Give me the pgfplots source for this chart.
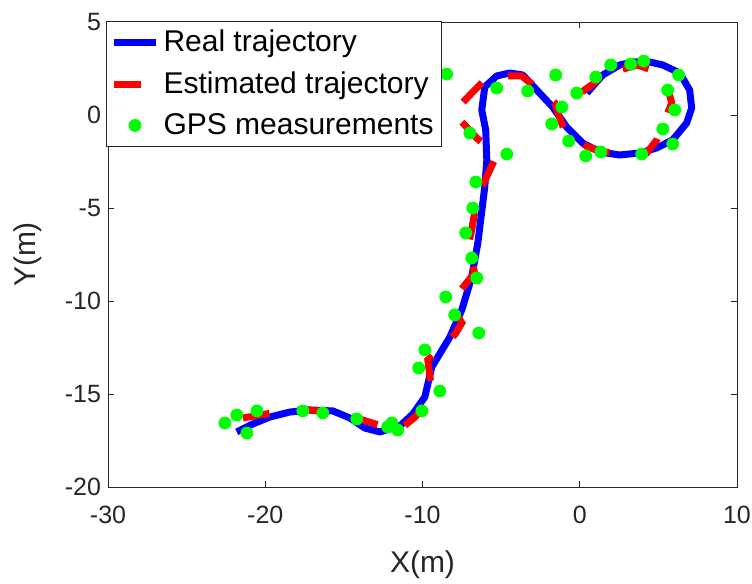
\documentclass[border=0pt]{standalone}
\usepackage{fontspec}
\setmainfont{Liberation Sans}
\usepackage{pgfplots}
\pgfplotsset{compat=1.18}
\definecolor{axgray}{gray}{0.15}
\definecolor{gpsgreen}{rgb}{0,1,0}
\pgfplotsset{
  mylinelegend/.style={legend image code/.code={\draw[##1] (0pt,0pt) -- (21pt,0pt);}},
  mymarklegend/.style={legend image code/.code={\draw[##1] plot coordinates {(10.5pt,0pt)};}},
}
\begin{document}
\begin{tikzpicture}
\useasboundingbox (-54pt,-48.5pt) rectangle (322pt,243.5pt);
\begin{axis}[
  scale only axis, width=314.5pt, height=232.5pt,
  xmin=-30, xmax=10, ymin=-20, ymax=5,
  xtick={-30,-20,-10,0,10}, ytick={-20,-15,-10,-5,0,5},
  tick align=inside, tick pos=both, major tick length=3pt,
  axis line style={axgray, line width=0.4pt}, tick style={axgray, line width=0.4pt},
  ticklabel style={font=\fontsize{12.5}{14}\selectfont, text=axgray},
  xticklabel style={yshift=-6pt},
  /pgf/number format/assume math mode=true,
  xlabel={X(m)}, ylabel={Y(m)},
  every axis x label/.style={at={(axis description cs:0.5,-0.168)}, anchor=center},
  every axis y label/.style={at={(axis description cs:-0.127,0.5)}, rotate=90, anchor=center},
  label style={font=\fontsize{15}{18}\selectfont, text=axgray},
  legend style={at={(axis description cs:-0.003,1.003)}, anchor=north west,
    font=\fontsize{15}{18}\selectfont, draw=axgray, line width=0.4pt,
    inner xsep=2pt, inner ysep=2.5pt, row sep=4.5pt},
  legend cell align=left,
]
\addplot[blue, line width=3.5pt, line join=round, mylinelegend] coordinates {
(-21.81,-17.04) (-20.79,-16.61) (-19.71,-16.24) (-18.44,-15.97) (-17.16,-15.86)
(-15.70,-15.91) (-14.62,-16.29) (-13.67,-16.83) (-12.71,-17.04) (-11.44,-16.72)
(-10.62,-16.08) (-9.85,-15.16) (-9.41,-13.55) (-8.26,-11.94) (-7.50,-10.48)
(-6.87,-8.71) (-6.48,-6.88) (-6.04,-3.87) (-5.91,-2.42) (-5.98,-0.81)
(-6.23,0.27) (-6.04,1.51) (-5.28,2.10) (-4.45,2.26) (-3.62,2.15)
(-2.73,1.34) (-1.72,0.43) (-0.83,-0.65) (0.19,-1.51) (1.27,-1.99)
(2.54,-2.15) (3.81,-2.04) (4.90,-1.77) (5.91,-1.34) (6.80,-0.43)
(7.12,0.38) (6.99,1.34) (6.36,2.26) (5.28,2.69) (4.45,2.85)
(3.37,2.85) (2.54,2.69) (1.46,2.15) (0.45,1.18)
};
\addlegendentry{Real trajectory}
\addplot[red, line width=3.5pt, dash pattern=on 13.5pt off 14pt, mylinelegend] coordinates {
(-21.42,-16.29) (-19.58,-16.02) (-18.31,-15.86) (-17.16,-15.86) (-15.77,-16.02)
(-14.75,-16.18) (-13.80,-16.40) (-12.40,-16.77) (-11.25,-16.77) (-10.55,-16.29)
(-9.85,-15.70) (-9.41,-14.78) (-9.54,-13.98) (-9.66,-13.17) (-8.39,-12.26)
(-7.88,-11.72) (-7.50,-11.18) (-7.82,-10.75) (-7.95,-9.84) (-7.31,-9.14)
(-6.68,-8.49) (-7.12,-7.10) (-6.87,-6.18) (-6.68,-5.22) (-6.23,-3.87)
(-5.72,-2.96) (-5.28,-2.15) (-6.55,-1.24) (-7.31,-0.54) (-8.07,0.11)
(-6.87,1.18) (-6.17,1.77) (-5.53,2.10) (-3.69,2.10) (-2.73,1.45)
(-1.59,0.65) (-1.27,-0.16) (-0.95,-0.91) (0.51,-1.72) (1.59,-1.99)
(2.54,-2.04) (4.26,-2.04) (4.90,-1.34) (5.28,-0.54) (5.85,0.65)
(5.59,1.45) (5.09,2.26) (3.69,2.69) (2.54,2.42) (1.46,2.04) (0.13,1.24)
};
\addlegendentry{Estimated trajectory}
\addplot[only marks, mark=*, mark size=3pt, color=gpsgreen,
  mark options={draw=gpsgreen, fill=gpsgreen}, mymarklegend] coordinates {
(-22.57,-16.56) (-21.81,-16.13) (-20.53,-15.91) (-21.17,-17.10) (-17.61,-15.91)
(-16.34,-16.02) (-14.18,-16.34) (-12.21,-16.77) (-11.95,-16.56) (-11.57,-16.94)
(-10.04,-15.91) (-8.90,-14.84) (-10.24,-13.60) (-9.85,-12.63) (-7.95,-10.75)
(-8.52,-9.78) (-6.42,-11.72) (-6.55,-8.76) (-6.87,-7.69) (-7.25,-6.34)
(-6.80,-5.00) (-6.61,-3.60) (-4.64,-2.10) (-6.99,-0.97) (-8.46,2.20)
(-5.28,1.45) (-3.31,1.29) (-1.53,2.15) (-1.14,0.43) (-1.78,-0.48)
(-0.70,-1.40) (0.38,-2.20) (1.34,-1.99) (-0.19,1.18) (1.02,2.04)
(1.97,2.69) (3.24,2.74) (4.07,2.90) (6.29,2.15) (5.59,1.34)
(6.04,0.27) (5.28,-0.75) (5.91,-1.56) (3.94,-2.10)
};
\addlegendentry{GPS measurements}
\end{axis}
\end{tikzpicture}
\end{document}
